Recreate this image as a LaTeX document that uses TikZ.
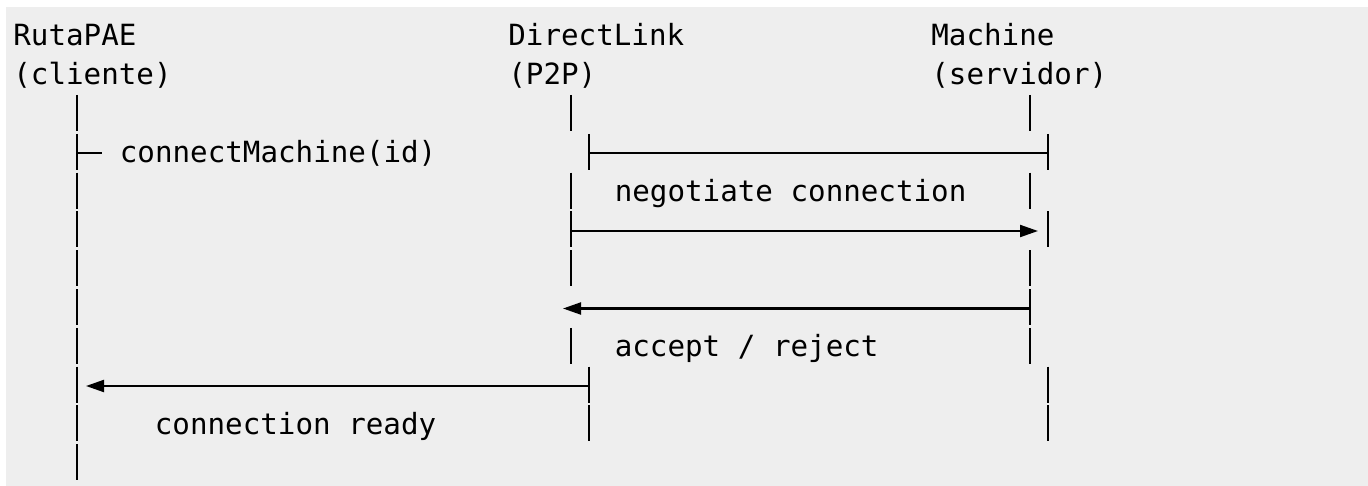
\documentclass[tikz,border=0pt]{standalone}
\usepackage{fontspec}
\setmonofont{DejaVu Sans Mono}
\usepackage{tikz}
\usetikzlibrary{arrows.meta,positioning}
\definecolor{Paper}{HTML}{EEEEEE}
\newcommand{\rowy}[1]{113+(#1-3)*38.8}

\begin{document}
\begin{tikzpicture}
  [
    x=0.5pt, y=-0.5pt,
    Label/.style={anchor=base west, inner sep=0pt, font=\ttfamily\fontsize{14.6}{17}\selectfont},
    Life/.style={draw=black, line width=1.05pt},
    Msg/.style={draw=black, line width=1.05pt},
    Tip/.style={-{Triangle[length=9pt, width=6pt]}}
  ]
  \useasboundingbox (0,0) rectangle (1368,486);
  \fill[Paper] (6,7) rectangle (1368,486);
  % Nodes
  \node[Label] (ruta) at (13, 46) {RutaPAE};
  \node[Label] (cliente) at (13, 84.8) {(cliente)};
  \node[Label] (link) at (508, 46) {DirectLink};
  \node[Label] (p2p) at (508, 84.8) {(P2P)};
  \node[Label] (machine) at (931, 46) {Machine};
  \node[Label] (servidor) at (931, 84.8) {(servidor)};
  \node[Label] (connect) at (119.5, 162.4) {connectMachine(id)};
  \node[Label] (negotiate) at (614.4, 201.2) {negotiate connection};
  \node[Label] (accept) at (614.4, 356.4) {accept / reject};
  \node[Label] (ready) at (154.5, 434) {connection ready};
  % Lifelines
  \foreach \x/\r in {77/3, 77/4, 77/5, 77/6, 77/7, 77/8, 77/9, 77/10, 77/11, 77/12,
                     571/3, 571/5, 571/6, 571/7, 571/9, 589/4, 589/10, 589/11,
                     1030/3, 1030/5, 1030/7, 1030/8, 1030/9, 1048/4, 1048/6, 1048/10, 1048/11}
    \path [Life] (\x, {\rowy{\r}-18}) -- (\x, {\rowy{\r}+18});
  % Message ends
  \coordinate (ruta4) at (77, 153.3);
  \coordinate (ruta4e) at (102, 153.3);
  \coordinate (link4) at (589, 153.3);
  \coordinate (machine4) at (1048, 153.3);
  \coordinate (link6) at (571, 231);
  \coordinate (machine6) at (1038, 231);
  \coordinate (machine8) at (1030, 308.5);
  \coordinate (link8) at (563, 308.5);
  \coordinate (link10) at (589, 386);
  \coordinate (ruta10) at (86, 386);
  % Lines
  \path [Msg] (ruta4) -- (ruta4e);
  \path [Msg] (link4) -- (machine4);
  \path [Msg, Tip] (link6) -- (machine6);
  \path [Msg, Tip] (machine8) -- (link8);
  \path [Msg, Tip] (link10) -- (ruta10);
\end{tikzpicture}
\end{document}
